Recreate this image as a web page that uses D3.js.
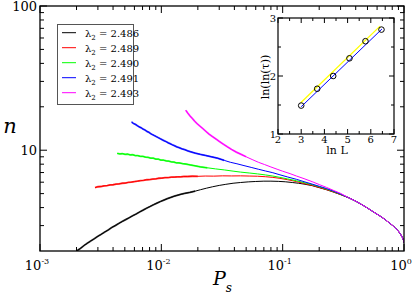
<!DOCTYPE html>
<html><head><meta charset="utf-8">
<script src="https://cdn.jsdelivr.net/npm/d3@7"></script>
<style>body{margin:0;background:#fff}svg{display:block}</style>
</head><body><svg id="c" width="415" height="295"></svg>
<script>
// ---- data ----
const legendLabels = ["2.486","2.489","2.490","2.491","2.493"];
const colors = ["#000000","#ff0000","#00ff00","#0000ff","#ff00ff"];
const xTickLabels = ["-3","-2","-1","0"];
const yTickLabels = ["10","100"];
const pBlack = [0.00200,0.00215,0.00230,0.00245,0.00262,0.00280,0.00300,0.00320,0.00342,0.00365,0.00390,0.00417,0.00445,0.00475,0.00508,0.00543,0.00580,0.00620,0.00662,0.00707,0.00755,0.00807,0.00862,0.00921,0.00984,0.0105,0.0112,0.0120,0.0128,0.0137,0.0146,0.0156,0.0172,0.0190,0.0210,0.0235,0.0265,0.030,0.034,0.039,0.045,0.052,0.060,0.070,0.080,0.092,0.105,0.120,0.135,0.150,0.175,0.20,0.23,0.26,0.30];
const nBlack = [2.00,2.08,2.18,2.26,2.35,2.43,2.53,2.61,2.71,2.80,2.91,3.00,3.10,3.20,3.30,3.40,3.51,3.61,3.73,3.84,3.96,4.07,4.19,4.30,4.41,4.51,4.61,4.71,4.80,4.88,4.95,5.02,5.10,5.20,5.32,5.45,5.58,5.70,5.80,5.90,5.97,6.03,6.07,6.10,6.10,6.08,6.04,5.97,5.90,5.82,5.68,5.50,5.32,5.14,4.92];
const pRed = [0.00284,0.00300,0.00318,0.00337,0.00357,0.00378,0.00400,0.00424,0.00449,0.00476,0.00504,0.00534,0.00566,0.00600,0.00636,0.00674,0.00714,0.00757,0.00802,0.00850,0.00900,0.00954,0.0101,0.0107,0.0114,0.0121,0.0128,0.0136,0.0144,0.0153,0.0165,0.018,0.020,0.023,0.027,0.032,0.038,0.045,0.053,0.062,0.072,0.083,0.095,0.11,0.13,0.15,0.175,0.20,0.23,0.26,0.30];
const nRed = [5.50,5.58,5.60,5.66,5.68,5.74,5.76,5.82,5.84,5.90,5.92,5.98,6.01,6.06,6.10,6.15,6.18,6.24,6.26,6.31,6.33,6.39,6.40,6.45,6.46,6.50,6.51,6.54,6.54,6.57,6.57,6.60,6.59,6.62,6.61,6.64,6.63,6.64,6.62,6.60,6.55,6.48,6.38,6.24,6.06,5.88,5.70,5.52,5.33,5.15,4.93];
const pGreen = [0.00433,0.00455,0.00478,0.00502,0.00527,0.00553,0.00581,0.00610,0.00640,0.00672,0.00706,0.00741,0.00778,0.00817,0.00858,0.00901,0.00946,0.0099,0.0104,0.0110,0.0115,0.0121,0.0127,0.0133,0.0140,0.0150,0.0160,0.0172,0.019,0.021,0.024,0.028,0.033,0.039,0.045,0.053,0.062,0.072,0.083,0.095,0.11,0.13,0.15,0.175,0.20,0.23,0.26,0.30];
const nGreen = [9.50,9.42,9.48,9.36,9.40,9.28,9.30,9.18,9.18,9.06,9.06,8.94,8.93,8.80,8.80,8.67,8.66,8.54,8.53,8.42,8.40,8.30,8.28,8.18,8.16,8.06,8.02,7.92,7.80,7.66,7.55,7.42,7.30,7.16,7.05,6.95,6.85,6.74,6.62,6.48,6.32,6.14,5.96,5.77,5.58,5.38,5.19,4.95];
const pBlue = [0.00569,0.00590,0.00612,0.00635,0.00658,0.00683,0.00708,0.00734,0.00761,0.00790,0.00819,0.00849,0.00881,0.00913,0.00947,0.00982,0.0102,0.0106,0.0110,0.0114,0.0118,0.0123,0.0128,0.0134,0.0140,0.0148,0.0156,0.0165,0.0175,0.019,0.021,0.023,0.026,0.029,0.033,0.037,0.042,0.048,0.055,0.063,0.072,0.083,0.095,0.11,0.13,0.15,0.175,0.20,0.23,0.26,0.30];
const nBlue = [15.7,15.3,15.1,14.8,14.5,14.3,14.0,13.8,13.5,13.3,13.0,12.8,12.6,12.4,12.2,12.0,11.8,11.6,11.45,11.25,11.1,10.9,10.75,10.55,10.42,10.22,10.08,9.90,9.75,9.55,9.35,9.20,9.0,8.8,8.5,8.25,8.05,7.82,7.6,7.38,7.18,6.98,6.75,6.52,6.28,6.05,5.82,5.62,5.42,5.22,4.97];
const pMagenta = [0.0159,0.0165,0.0172,0.0180,0.0188,0.0197,0.0208,0.0220,0.0233,0.0248,0.0265,0.0284,0.0303,0.0325,0.0350,0.0380,0.0415,0.0455,0.050,0.056,0.063,0.071,0.080,0.090,0.10,0.115,0.13,0.15,0.175,0.20,0.23,0.26,0.30];
const nMagenta = [18.9,18.1,17.3,16.6,15.9,15.3,14.7,14.1,13.5,12.9,12.4,11.9,11.45,11.0,10.55,10.1,9.7,9.35,9.0,8.62,8.25,7.95,7.65,7.38,7.15,6.88,6.62,6.35,6.05,5.78,5.52,5.28,5.02];
const pTail = [0.35,0.40,0.45,0.50,0.55,0.60,0.65,0.70,0.75,0.80,0.85,0.90,0.94,0.97,0.99,1.00];
const nTail = [4.68,4.43,4.19,3.97,3.77,3.60,3.45,3.30,3.15,3.02,2.89,2.74,2.60,2.48,2.37,2.28];
// inset
const lnL = [3.00,3.69,4.38,5.08,5.77,6.46];
const lnlnTau = [1.49,1.78,2.00,2.305,2.60,2.80];
const fitYellowX = [2.98,6.40], fitYellowY = [1.54,2.86];
const fitBlueX = [3.00,6.48], fitBlueY = [1.47,2.81];
const insetXTicks = [2,3,4,5,6,7];
const insetYTicks = [1,2,3];

const heads = [[pBlack,nBlack],[pRed,nRed],[pGreen,nGreen],[pBlue,nBlue],[pMagenta,nMagenta]];
// end of the fluctuating part of each curve, in p
const noisyEnd = [0.02,0.02,0.025,0.035,0.05];

const FONT = "'DejaVu Serif', 'Liberation Serif', 'Noto Serif', serif";
// ---- main plot ----
const svg = d3.select("#c").attr("font-family", FONT);
const L=40, R=404, T=6, B=251;
const x = d3.scaleLog().domain([1e-3,1]).range([L,R]);
const y = d3.scaleLog().domain([2,100]).range([B,T]);

svg.append("defs").append("clipPath").attr("id","clip")
  .append("rect").attr("x",L).attr("y",T).attr("width",R-L).attr("height",B-T);

const line = d3.line().x(d=>x(d[0])).y(d=>y(d[1]));
const g = svg.append("g").attr("clip-path","url(#clip)");
heads.forEach((h,i)=>{
  const head = h[0].map((p,j)=>[p,h[1][j]]);
  const pts = head.concat(pTail.map((p,j)=>[p,nTail[j]]));
  g.append("path").datum(head.filter(d=>d[0]<=noisyEnd[i])).attr("d",line).attr("fill","none")
   .attr("stroke",colors[i]).attr("stroke-width",1.8).attr("stroke-opacity",0.75);
  g.append("path").datum(pts).attr("d",line).attr("fill","none")
   .attr("stroke",colors[i]).attr("stroke-width",1);
});

// ticks
const xMajor=[1e-3,1e-2,1e-1,1];
const xMinor=[]; [1e-3,1e-2,1e-1].forEach(d=>{for(let k=2;k<=9;k++)xMinor.push(d*k);});
const yMajor=[10,100];
const yMinor=[]; for(let k=3;k<=9;k++)yMinor.push(k); for(let k=20;k<=90;k+=10)yMinor.push(k);
const tk = svg.append("g").attr("stroke","#000").attr("stroke-width",1);
xMajor.forEach(v=>{const X=x(v);
  tk.append("line").attr("x1",X).attr("x2",X).attr("y1",B).attr("y2",B-7);
  tk.append("line").attr("x1",X).attr("x2",X).attr("y1",T).attr("y2",T+7);});
xMinor.forEach(v=>{const X=x(v);
  tk.append("line").attr("x1",X).attr("x2",X).attr("y1",B).attr("y2",B-4);
  tk.append("line").attr("x1",X).attr("x2",X).attr("y1",T).attr("y2",T+4);});
yMajor.forEach(v=>{const Y=y(v);
  tk.append("line").attr("x1",L).attr("x2",L+7).attr("y1",Y).attr("y2",Y);
  tk.append("line").attr("x1",R).attr("x2",R-7).attr("y1",Y).attr("y2",Y);});
yMinor.forEach(v=>{const Y=y(v);
  tk.append("line").attr("x1",L).attr("x2",L+4).attr("y1",Y).attr("y2",Y);
  tk.append("line").attr("x1",R).attr("x2",R-4).attr("y1",Y).attr("y2",Y);});
svg.append("rect").attr("x",L).attr("y",T).attr("width",R-L).attr("height",B-T)
  .attr("fill","none").attr("stroke","#000").attr("stroke-width",1.3);

// tick labels
xMajor.forEach((v,i)=>{
  const t=svg.append("text").attr("x",x(v)-3).attr("y",270).attr("text-anchor","middle")
    .attr("font-size",13);
  t.append("tspan").text("10");
  t.append("tspan").attr("dy",-6).attr("font-size",8).text(xTickLabels[i]);
});
yMajor.forEach((v,i)=>{
  svg.append("text").attr("x",L-3).attr("y",y(v)+5).attr("text-anchor","end")
    .attr("font-size",13).text(yTickLabels[i]);
});
// axis titles
svg.append("text").attr("x",10).attr("y",133).attr("text-anchor","middle")
  .attr("font-size",21).attr("font-style","italic").text("n");
const px=svg.append("text").attr("x",213).attr("y",285).attr("font-size",19).attr("font-style","italic");
px.append("tspan").text("P");
px.append("tspan").attr("dy",7).attr("font-size",12).text("s");

// legend
svg.append("rect").attr("x",57.5).attr("y",24.5).attr("width",76).attr("height",80)
  .attr("fill","#fff").attr("stroke","#555").attr("stroke-width",1);
legendLabels.forEach((lab,i)=>{
  const Y=32.7+15*i;
  svg.append("line").attr("x1",62).attr("x2",76).attr("y1",Y).attr("y2",Y)
    .attr("stroke",colors[i]).attr("stroke-width",1);
  const t=svg.append("text").attr("x",85).attr("y",Y+4).attr("font-size",10);
  t.append("tspan").text("λ");
  t.append("tspan").attr("dy",3).attr("font-size",7).text("2");
  t.append("tspan").attr("dy",-3).text(" = "+lab);
});

// ---- inset ----
const iL=278, iR=394, iT=18, iB=134;
const ix=d3.scaleLinear().domain([2,7]).range([iL,iR]);
const iy=d3.scaleLinear().domain([1,3]).range([iB,iT]);
svg.append("rect").attr("x",iL).attr("y",iT).attr("width",iR-iL).attr("height",iB-iT).attr("fill","#fff");
const it=svg.append("g").attr("stroke","#000").attr("stroke-width",1);
for(let v=2; v<=7.001; v+=0.5){const X=ix(v), len=(Math.abs(v-Math.round(v))<1e-6)?5:3;
  it.append("line").attr("x1",X).attr("x2",X).attr("y1",iB).attr("y2",iB-len);
  it.append("line").attr("x1",X).attr("x2",X).attr("y1",iT).attr("y2",iT+len);}
for(let v=1; v<=3.001; v+=0.5){const Y=iy(v), len=(Math.abs(v-Math.round(v))<1e-6)?5:3;
  it.append("line").attr("x1",iL).attr("x2",iL+len).attr("y1",Y).attr("y2",Y);
  it.append("line").attr("x1",iR).attr("x2",iR-len).attr("y1",Y).attr("y2",Y);}
svg.append("rect").attr("x",iL).attr("y",iT).attr("width",iR-iL).attr("height",iB-iT)
  .attr("fill","none").attr("stroke","#000").attr("stroke-width",1.2);
insetXTicks.forEach(v=>svg.append("text").attr("x",ix(v)).attr("y",iB+9).attr("text-anchor","middle").attr("font-size",10).text(v));
insetYTicks.forEach(v=>svg.append("text").attr("x",iL-2).attr("y",iy(v)+4).attr("text-anchor","end").attr("font-size",10).text(v));
svg.append("text").attr("x",337).attr("y",154).attr("text-anchor","middle").attr("font-size",11).text("ln L");
svg.append("text").attr("transform","translate(269,77) rotate(-90)").attr("text-anchor","middle")
  .attr("font-size",11).text("ln(ln(τ))");
const il=d3.line().x(d=>ix(d[0])).y(d=>iy(d[1]));
svg.append("path").datum(fitYellowX.map((v,i)=>[v,fitYellowY[i]])).attr("d",il)
  .attr("stroke","#ffff00").attr("stroke-width",1.3).attr("fill","none");
svg.append("path").datum(fitBlueX.map((v,i)=>[v,fitBlueY[i]])).attr("d",il)
  .attr("stroke","#0000ff").attr("stroke-width",1).attr("fill","none");
lnL.forEach((v,i)=>svg.append("circle").attr("cx",ix(v)).attr("cy",iy(lnlnTau[i])).attr("r",2.8)
  .attr("fill","none").attr("stroke","#000").attr("stroke-width",1));
</script></body></html>
